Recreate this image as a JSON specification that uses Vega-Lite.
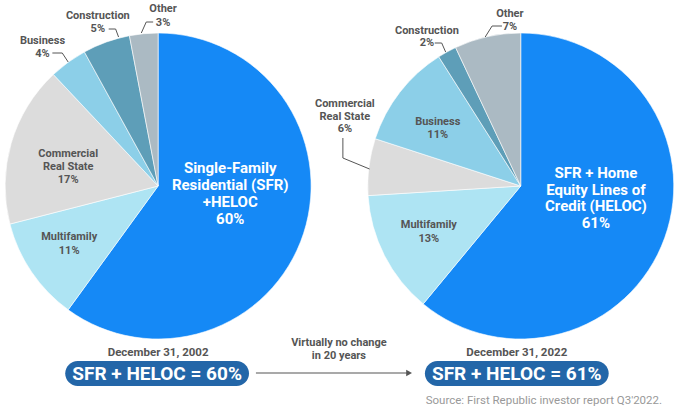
{
  "$schema": "https://vega.github.io/schema/vega-lite/v6.json",
  "width": 674,
  "height": 412,
  "autosize": {"type": "fit", "contains": "padding"},
  "padding": 0,
  "background": "#ffffff",
  "datasets": {
    "y2002": [
      {"idx": 1, "segment": "SFR + HELOC", "share": 60},
      {"idx": 2, "segment": "Multifamily", "share": 11},
      {"idx": 3, "segment": "Commercial Real State", "share": 17},
      {"idx": 4, "segment": "Business", "share": 4},
      {"idx": 5, "segment": "Construction", "share": 5},
      {"idx": 6, "segment": "Other", "share": 3}
    ],
    "y2022": [
      {"idx": 1, "segment": "SFR + HELOC", "share": 61},
      {"idx": 2, "segment": "Multifamily", "share": 13},
      {"idx": 3, "segment": "Commercial Real State", "share": 6},
      {"idx": 4, "segment": "Business", "share": 11},
      {"idx": 5, "segment": "Construction", "share": 2},
      {"idx": 6, "segment": "Other", "share": 7}
    ]
  },
  "data": {"values": [{}]},
  "config": {
    "view": {"stroke": null},
    "axis": {"disable": true},
    "text": {"font": "Roboto", "fontWeight": "bold", "fontSize": 11, "color": "#555555", "lineHeight": 12, "align": "center", "baseline": "middle"},
    "rule": {"color": "#555555", "strokeWidth": 1}
  },
  "layer": [
    {
      "data": {"name": "y2002"},
      "mark": {"type": "arc", "radius": 153, "stroke": "#ffffff", "strokeWidth": 0.6},
      "encoding": {
        "x": {"datum": 160, "type": "quantitative", "scale": {"domain": [0, 674], "nice": false, "zero": false}, "axis": null},
        "y": {"datum": 186, "type": "quantitative", "scale": {"domain": [0, 412], "nice": false, "zero": false, "reverse": true}, "axis": null},
        "theta": {"field": "share", "type": "quantitative", "stack": true},
        "order": {"field": "idx", "type": "quantitative"},
        "color": {"field": "segment", "type": "nominal", "legend": null,
          "scale": {"domain": ["SFR + HELOC", "Multifamily", "Commercial Real State", "Business", "Construction", "Other"],
                    "range": ["#1589F6", "#AEE4F3", "#DCDCDC", "#8CCFE8", "#5E9EB8", "#ABBAC3"]}}
      }
    },
    {
      "data": {"name": "y2022"},
      "mark": {"type": "arc", "radius": 153, "stroke": "#ffffff", "strokeWidth": 0.6},
      "encoding": {
        "x": {"datum": 527, "type": "quantitative"},
        "y": {"datum": 186, "type": "quantitative"},
        "theta": {"field": "share", "type": "quantitative", "stack": true},
        "order": {"field": "idx", "type": "quantitative"},
        "color": {"field": "segment", "type": "nominal", "legend": null}
      }
    },
    {"mark": {"type": "text", "fontSize": 15, "lineHeight": 17, "color": "#ffffff"},
     "encoding": {"x": {"datum": 233, "type": "quantitative"}, "y": {"datum": 168, "type": "quantitative"}, "text": {"value": ["Single-Family", "Residential (SFR)", "+HELOC", "60%"]}}},
    {"mark": {"type": "text", "lineHeight": 14},
     "encoding": {"x": {"datum": 70, "type": "quantitative"}, "y": {"datum": 237, "type": "quantitative"}, "text": {"value": ["Multifamily", "11%"]}}},
    {"mark": {"type": "text", "lineHeight": 13},
     "encoding": {"x": {"datum": 69, "type": "quantitative"}, "y": {"datum": 154, "type": "quantitative"}, "text": {"value": ["Commercial", "Real State", "17%"]}}},
    {"mark": {"type": "text", "lineHeight": 12.5},
     "encoding": {"x": {"datum": 43, "type": "quantitative"}, "y": {"datum": 41, "type": "quantitative"}, "text": {"value": ["Business", "4%"]}}},
    {"mark": {"type": "text", "lineHeight": 13},
     "encoding": {"x": {"datum": 99, "type": "quantitative"}, "y": {"datum": 16, "type": "quantitative"}, "text": {"value": ["Construction", "5%"]}}},
    {"mark": {"type": "text", "lineHeight": 14},
     "encoding": {"x": {"datum": 165, "type": "quantitative"}, "y": {"datum": 9, "type": "quantitative"}, "text": {"value": ["Other", "3%"]}}},
    {"mark": {"type": "text", "fontSize": 15, "lineHeight": 16.7, "color": "#ffffff"},
     "encoding": {"x": {"datum": 603, "type": "quantitative"}, "y": {"datum": 173, "type": "quantitative"}, "text": {"value": ["SFR + Home", "Equity Lines of", "Credit (HELOC)", "61%"]}}},
    {"mark": {"type": "text", "lineHeight": 14},
     "encoding": {"x": {"datum": 434, "type": "quantitative"}, "y": {"datum": 225, "type": "quantitative"}, "text": {"value": ["Multifamily", "13%"]}}},
    {"mark": {"type": "text", "lineHeight": 12.5},
     "encoding": {"x": {"datum": 443, "type": "quantitative"}, "y": {"datum": 122, "type": "quantitative"}, "text": {"value": ["Business", "11%"]}}},
    {"mark": {"type": "text", "lineHeight": 12.5},
     "encoding": {"x": {"datum": 349, "type": "quantitative"}, "y": {"datum": 104, "type": "quantitative"}, "text": {"value": ["Commercial", "Real State", "6%"]}}},
    {"mark": {"type": "text", "lineHeight": 12.5},
     "encoding": {"x": {"datum": 432, "type": "quantitative"}, "y": {"datum": 30.5, "type": "quantitative"}, "text": {"value": ["Construction", "2%"]}}},
    {"mark": {"type": "text", "lineHeight": 13},
     "encoding": {"x": {"datum": 516, "type": "quantitative"}, "y": {"datum": 14, "type": "quantitative"}, "text": {"value": ["Other", "7%"]}}},
    {"mark": {"type": "rule"}, "encoding": {"x": {"datum": 155, "type": "quantitative"}, "y": {"datum": 22, "type": "quantitative"}, "x2": {"datum": 148}, "y2": {"datum": 22}}},
    {"mark": {"type": "rule"}, "encoding": {"x": {"datum": 148, "type": "quantitative"}, "y": {"datum": 22, "type": "quantitative"}, "x2": {"datum": 143}, "y2": {"datum": 33}}},
    {"mark": {"type": "rule"}, "encoding": {"x": {"datum": 110, "type": "quantitative"}, "y": {"datum": 29, "type": "quantitative"}, "x2": {"datum": 117}, "y2": {"datum": 29}}},
    {"mark": {"type": "rule"}, "encoding": {"x": {"datum": 117, "type": "quantitative"}, "y": {"datum": 29, "type": "quantitative"}, "x2": {"datum": 120}, "y2": {"datum": 37}}},
    {"mark": {"type": "rule"}, "encoding": {"x": {"datum": 53, "type": "quantitative"}, "y": {"datum": 53, "type": "quantitative"}, "x2": {"datum": 63}, "y2": {"datum": 53}}},
    {"mark": {"type": "rule"}, "encoding": {"x": {"datum": 63, "type": "quantitative"}, "y": {"datum": 53, "type": "quantitative"}, "x2": {"datum": 69}, "y2": {"datum": 62}}},
    {"mark": {"type": "rule"}, "encoding": {"x": {"datum": 508, "type": "quantitative"}, "y": {"datum": 26, "type": "quantitative"}, "x2": {"datum": 498}, "y2": {"datum": 26}}},
    {"mark": {"type": "rule"}, "encoding": {"x": {"datum": 498, "type": "quantitative"}, "y": {"datum": 26, "type": "quantitative"}, "x2": {"datum": 491}, "y2": {"datum": 37}}},
    {"mark": {"type": "rule"}, "encoding": {"x": {"datum": 440, "type": "quantitative"}, "y": {"datum": 43, "type": "quantitative"}, "x2": {"datum": 447}, "y2": {"datum": 43}}},
    {"mark": {"type": "rule"}, "encoding": {"x": {"datum": 447, "type": "quantitative"}, "y": {"datum": 43, "type": "quantitative"}, "x2": {"datum": 451}, "y2": {"datum": 52}}},
    {"mark": {"type": "rule"}, "encoding": {"x": {"datum": 347, "type": "quantitative"}, "y": {"datum": 138, "type": "quantitative"}, "x2": {"datum": 347}, "y2": {"datum": 158}}},
    {"mark": {"type": "rule"}, "encoding": {"x": {"datum": 347, "type": "quantitative"}, "y": {"datum": 158, "type": "quantitative"}, "x2": {"datum": 374}, "y2": {"datum": 169}}},
    {"mark": {"type": "text", "fontSize": 11.5},
     "encoding": {"x": {"datum": 160, "type": "quantitative"}, "y": {"datum": 353, "type": "quantitative"}, "text": {"value": "December 31, 2002"}}},
    {"mark": {"type": "text", "fontSize": 11.5},
     "encoding": {"x": {"datum": 523, "type": "quantitative"}, "y": {"datum": 353, "type": "quantitative"}, "text": {"value": "December 31, 2022"}}},
    {"mark": {"type": "rect", "cornerRadius": 12.5, "color": "#2366A8"},
     "encoding": {"x": {"datum": 66, "type": "quantitative"}, "x2": {"datum": 252}, "y": {"datum": 361, "type": "quantitative"}, "y2": {"datum": 386}}},
    {"mark": {"type": "rect", "cornerRadius": 12.5, "color": "#2366A8"},
     "encoding": {"x": {"datum": 430, "type": "quantitative"}, "x2": {"datum": 616}, "y": {"datum": 361, "type": "quantitative"}, "y2": {"datum": 386}}},
    {"mark": {"type": "text", "fontSize": 19, "color": "#ffffff"},
     "encoding": {"x": {"datum": 159, "type": "quantitative"}, "y": {"datum": 374, "type": "quantitative"}, "text": {"value": "SFR + HELOC = 60%"}}},
    {"mark": {"type": "text", "fontSize": 19, "color": "#ffffff"},
     "encoding": {"x": {"datum": 523, "type": "quantitative"}, "y": {"datum": 374, "type": "quantitative"}, "text": {"value": "SFR + HELOC = 61%"}}},
    {"mark": {"type": "rule", "color": "#555555", "strokeWidth": 1.2},
     "encoding": {"x": {"datum": 259, "type": "quantitative"}, "x2": {"datum": 412}, "y": {"datum": 373, "type": "quantitative"}, "y2": {"datum": 373}}},
    {"mark": {"type": "point", "shape": "triangle-right", "filled": true, "size": 45, "color": "#555555", "opacity": 1},
     "encoding": {"x": {"datum": 414, "type": "quantitative"}, "y": {"datum": 373, "type": "quantitative"}}},
    {"mark": {"type": "text", "lineHeight": 12.5},
     "encoding": {"x": {"datum": 343, "type": "quantitative"}, "y": {"datum": 343, "type": "quantitative"}, "text": {"value": ["Virtually no change", "in 20 years"]}}},
    {"mark": {"type": "text", "fontWeight": "normal", "fontSize": 11.5, "color": "#999999", "align": "right"},
     "encoding": {"x": {"datum": 670, "type": "quantitative"}, "y": {"datum": 401, "type": "quantitative"}, "text": {"value": "Source: First Republic investor report Q3'2022."}}}
  ]
}
